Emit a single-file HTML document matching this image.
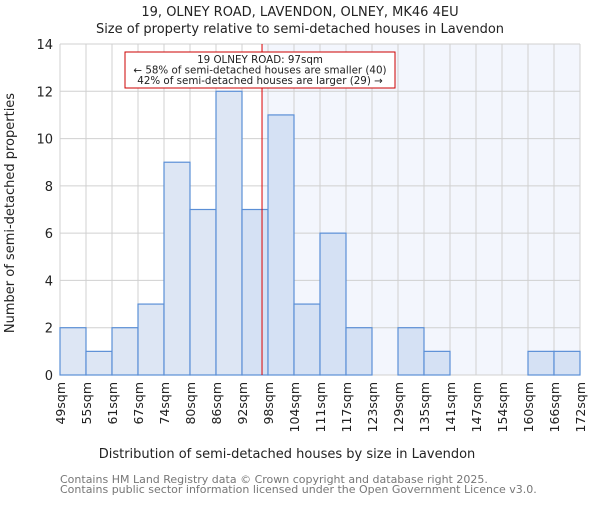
<!DOCTYPE html>
<html><head><meta charset="utf-8"><style>
body{margin:0;background:#fff;}
svg text{font-family:"DejaVu Sans","Liberation Sans",sans-serif;}
</style></head><body>
<svg id="chart" width="600" height="500" xmlns="http://www.w3.org/2000/svg">
<text x="300" y="16" text-anchor="middle" font-size="13" fill="#222">19, OLNEY ROAD, LAVENDON, OLNEY, MK46 4EU</text>
<text x="300" y="33" text-anchor="middle" font-size="13" fill="#222">Size of property relative to semi-detached houses in Lavendon</text>
<g id="plot"></g>
<text x="287" y="458" text-anchor="middle" font-size="13" fill="#222">Distribution of semi-detached houses by size in Lavendon</text>
<text transform="translate(14,213) rotate(-90)" text-anchor="middle" font-size="13" fill="#222">Number of semi-detached properties</text>
<text x="60" y="483" font-size="11" fill="#777">Contains HM Land Registry data © Crown copyright and database right 2025.</text>
<text x="60" y="493" font-size="11" fill="#777">Contains public sector information licensed under the Open Government Licence v3.0.</text>
</svg>
<script>
const categories=["49sqm","55sqm","61sqm","67sqm","74sqm","80sqm","86sqm","92sqm","98sqm","104sqm","111sqm","117sqm","123sqm","129sqm","135sqm","141sqm","147sqm","154sqm","160sqm","166sqm","172sqm"];
const counts=[2,1,2,3,9,7,12,7,11,3,6,2,0,2,1,0,0,0,1,1];
const yTicks=[0,2,4,6,8,10,12,14];
const markerBin=7.77;
const NS="http://www.w3.org/2000/svg";
const L=60,R=580,T=44,B=375,YMAX=14;
const bw=(R-L)/counts.length;
const x=i=>L+i*bw;
const y=v=>B-(v/YMAX)*(B-T);
const g=document.getElementById('plot');
function mk(t,a){const e=document.createElementNS(NS,t);for(const k in a)e.setAttribute(k,a[k]);g.appendChild(e);return e;}
const mx=x(markerBin);
let e=mk('rect',{x:mx,y:T,width:R-mx,height:B-T,fill:'#f3f6fd'});


for(let i=0;i<=counts.length;i++){e=mk('line',{x1:x(i),x2:x(i),y1:T,y2:B,stroke:'#d0d0d0','stroke-width':1});

}
yTicks.forEach(v=>{e=mk('line',{x1:L,x2:R,y1:y(v),y2:y(v),stroke:'#d0d0d0','stroke-width':1});


e=mk('text',{x:L-7,y:y(v)+5,'text-anchor':'end','font-size':13,fill:'#222'});e.textContent=v;

});
counts.forEach((c,i)=>{if(c<=0)return;
e=mk('rect',{x:x(i),y:y(c),width:bw,height:B-y(c),fill:(i+1<=markerBin?'#dde6f4':'#d5e1f4'),stroke:'#5b8fd6','stroke-width':1.2});

});
categories.forEach((c,i)=>{e=mk('text',{transform:`translate(${x(i)+5},${B+7}) rotate(-90)`,'text-anchor':'end','font-size':12.5,fill:'#222'});e.textContent=c;

});
e=mk('line',{x1:mx,x2:mx,y1:T,y2:B,stroke:'#dd0000','stroke-width':1});


e=mk('rect',{x:125,y:52,width:270,height:36,fill:'#fff',stroke:'#cc0000','stroke-width':1});


["19 OLNEY ROAD: 97sqm","← 58% of semi-detached houses are smaller (40)","42% of semi-detached houses are larger (29) →"].forEach((t,k)=>{
e=mk('text',{x:260,y:63+k*10.5,'text-anchor':'middle','font-size':10.3,fill:'#222'});e.textContent=t;

});
</script>
</body></html>
